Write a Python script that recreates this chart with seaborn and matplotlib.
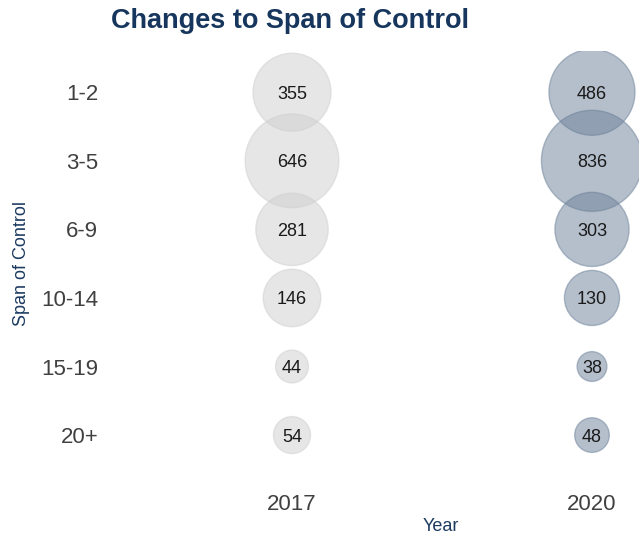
import numpy as np
import pandas as pd
import matplotlib
matplotlib.use("Agg")
import matplotlib.pyplot as plt
import seaborn as sns

spans = ["1-2", "3-5", "6-9", "10-14", "15-19", "20+"]
years = ["2017", "2020"]
counts_2017 = [355, 646, 281, 146, 44, 54]
counts_2020 = [486, 836, 303, 130, 38, 48]

df = pd.DataFrame({
    "span": spans * 2,
    "year": [years[0]] * len(spans) + [years[1]] * len(spans),
    "count": counts_2017 + counts_2020,
})
# bubble area grows with the square root of the count
df["root"] = np.sqrt(df["count"])

sns.set_style("white")
plt.rcParams["font.family"] = ["Liberation Sans", "DejaVu Sans"]

navy = "#1b3a60"
palette = {"2017": "#cfcfcf", "2020": "#6c8199"}

fig = plt.figure(figsize=(6.39, 5.37), dpi=100)
ax = fig.add_axes([0.1753, 0.1132, 0.8247, 0.7916])

sns.scatterplot(data=df, x="year", y="span", hue="year", size="root",
                sizes=(460, 5300), palette=palette, alpha=0.5,
                edgecolor="face", linewidth=1.0, legend=False, ax=ax)

for _, row in df.iterrows():
    ax.text(years.index(row["year"]), spans.index(row["span"]), str(row["count"]),
            ha="center", va="center_baseline", fontsize=13, color="#1a1a1a")

ax.set_xlim(-0.6, 1.1567)
ax.set_ylim(len(spans) - 0.4, -0.6)
sns.despine(ax=ax, left=True, bottom=True)
ax.tick_params(axis="both", length=0, labelsize=16, labelcolor="#404040")
ax.tick_params(axis="x", pad=13)
ax.tick_params(axis="y", pad=10)
ax.set_xlabel("Year", fontsize=13, color=navy)
ax.xaxis.set_label_coords(0.624, -0.098)
ax.set_ylabel("Span of Control", fontsize=13, color=navy, labelpad=8)

fig.text(290 / 639, 1 - 21 / 537, "Changes to Span of Control", ha="center", va="center",
         fontsize=19.5, fontweight="bold", color="#17365d")

fig.savefig("out.png", dpi=100)
